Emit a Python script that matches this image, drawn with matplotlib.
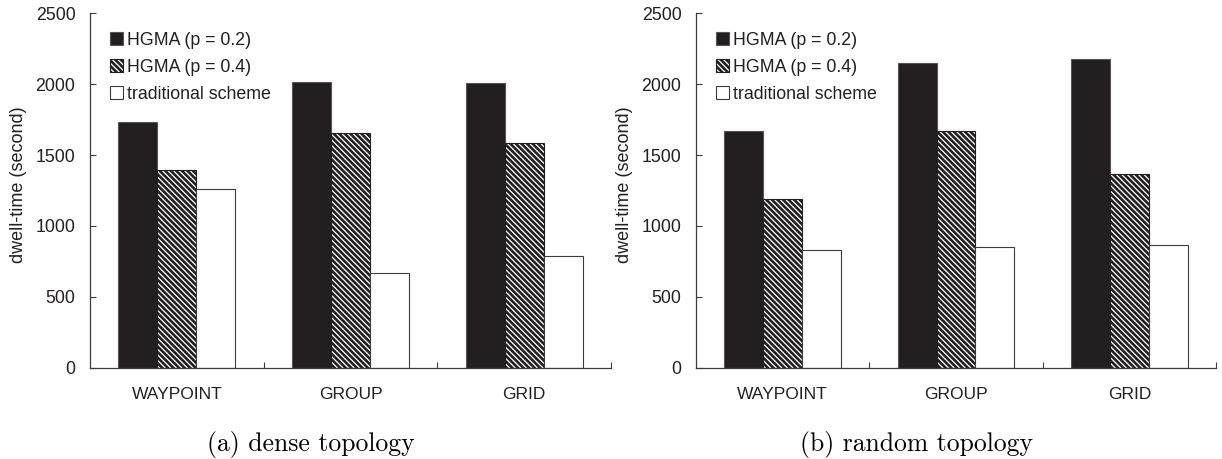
import matplotlib
matplotlib.use("Agg")
import matplotlib.pyplot as plt
import numpy as np
from matplotlib.patches import Patch

plt.rcParams["font.family"] = ["Liberation Sans", "DejaVu Sans"]
plt.rcParams["hatch.linewidth"] = 1.9

# Mobility models on the x axis
categories = ["WAYPOINT", "GROUP", "GRID"]
series_names = ["HGMA (p = 0.2)", "HGMA (p = 0.4)", "traditional scheme"]

# Dwell-time (seconds) per mobility model
dense_p02 = [1733, 2013, 2006]
dense_p04 = [1394, 1653, 1582]
dense_trad = [1262, 669, 785]

random_p02 = [1669, 2147, 2177]
random_p04 = [1191, 1669, 1364]
random_trad = [831, 848, 869]

yticks = [0, 500, 1000, 1500, 2000, 2500]
captions = ["(a) dense topology", "(b) random topology"]

INK = "#231f20"
EDGE = "#3c3c3c"
styles = [
    dict(facecolor=INK, edgecolor="#555555", hatch=None),
    dict(facecolor="white", edgecolor=INK, hatch="\\" * 6),
    dict(facecolor="white", edgecolor=EDGE, hatch=None),
]

fig = plt.figure(figsize=(12.22, 4.59), dpi=100)
W, H = 1222, 459
ax_boxes = [(90, 611), (696, 1216)]
top_px, bot_px = 13.3, 367.7

datasets = [
    [dense_p02, dense_p04, dense_trad],
    [random_p02, random_p04, random_trad],
]

bar_w = 39 / 173.7
x = np.arange(len(categories))
FS = 12.8

for (l, r), data, cap in zip(ax_boxes, datasets, captions):
    ax = fig.add_axes([l / W, 1 - bot_px / H, (r - l) / W, (bot_px - top_px) / H])
    for k, (vals, st) in enumerate(zip(data, styles)):
        ax.bar(x + (k - 1) * bar_w, vals, width=bar_w, linewidth=0.8,
               facecolor=st["facecolor"], edgecolor=st["edgecolor"],
               hatch=st["hatch"], zorder=2)
    ax.set_xlim(-0.5, len(categories) - 0.5)
    ax.set_ylim(0, 2500)
    ax.set_yticks(yticks)
    ax.set_yticklabels([str(v) for v in yticks])
    ax.set_xticks(x)
    ax.set_xticklabels(categories)
    ax.set_xticks(x + 0.5, minor=True)
    ax.tick_params(axis="x", which="major", length=0, pad=14, labelsize=12.5,
                   labelcolor=INK)
    ax.tick_params(axis="x", which="minor", direction="in", length=4,
                   width=0.8, color=EDGE)
    ax.tick_params(axis="y", direction="in", length=4, width=0.8, color=EDGE,
                   pad=10.5, labelsize=FS, labelcolor=INK)
    for s in ("top", "right"):
        ax.spines[s].set_visible(False)
    for s in ("left", "bottom"):
        ax.spines[s].set_color(EDGE)
        ax.spines[s].set_linewidth(0.9)
    ax.set_ylabel("dwell-time (second)", fontsize=13, color=INK)
    ax.yaxis.set_label_coords(-63 / (r - l), 0.515)

    handles = [Patch(facecolor=st["facecolor"],
                     edgecolor=INK if st["hatch"] else ("#555555" if k == 0 else EDGE),
                     hatch=st["hatch"], linewidth=0.8)
               for k, st in enumerate(styles)]
    leg = ax.legend(handles, series_names, loc="upper left",
                    bbox_to_anchor=(20 / (r - l), 0.947), frameon=False,
                    fontsize=FS, handlelength=0.73, handleheight=0.73,
                    handletextpad=0.22, labelspacing=0.55, borderpad=0,
                    borderaxespad=0)
    for t in leg.get_texts():
        t.set_color(INK)

    fig.text(((l + r) / 2 - 40) / W, 1 - 451 / H, cap, fontfamily="cmr10",
             fontsize=18.5, ha="center", va="baseline", color="black")

fig.savefig("out.png", dpi=100)
